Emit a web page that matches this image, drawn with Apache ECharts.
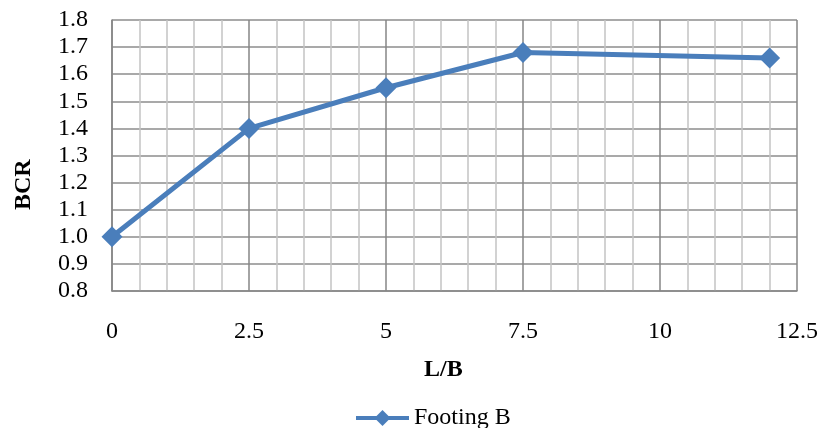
<!DOCTYPE html>
<html>
<head>
<meta charset="utf-8">
<script src="https://cdn.jsdelivr.net/npm/echarts@6/dist/echarts.min.js"></script>
<style>html,body{margin:0;padding:0;background:#fff}#c{width:821px;height:428px}</style>
</head>
<body>
<div id="c"></div>
<script>
const xValues = [0, 2.5, 5, 7.5, 12];
const bcrValues = [1.0, 1.4, 1.55, 1.68, 1.66];
const seriesName = 'Footing B';
const xTitle = 'L/B';
const yTitle = 'BCR';

const chart = echarts.init(document.getElementById('c'), null, {renderer: 'canvas'});
const font = '"Liberation Serif", "Times New Roman", serif';
chart.setOption({
  animation: false,
  backgroundColor: '#fff',
  grid: {left: 112, right: 24, top: 20, bottom: 137, show: false},
  xAxis: {
    type: 'value', min: 0, max: 12.5, interval: 2.5, minorSplitLine: {show: true, lineStyle: {color: '#c4c4c4', width: 1.5}},
    minorTick: {show: false, splitNumber: 5},
    splitLine: {show: true, lineStyle: {color: '#868686', width: 1.5}},
    axisLine: {show: true, lineStyle: {color: '#868686', width: 1.5}},
    axisTick: {show: false},
    axisLabel: {color: '#000', fontFamily: font, fontSize: 24, margin: 29, formatter: v => String(v)}
  },
  yAxis: {
    type: 'value', min: 0.8, max: 1.8, interval: 0.1,
    splitLine: {show: true, lineStyle: {color: '#8c8c8c', width: 1.5}},
    axisLine: {show: true, lineStyle: {color: '#868686', width: 1.5}},
    axisTick: {show: false},
    axisLabel: {color: '#000', fontFamily: font, fontSize: 24, margin: 24, formatter: v => v.toFixed(1)}
  },
  graphic: [
    {type: 'text', left: 444 - 20, top: 358, style: {text: xTitle, font: 'bold 24px ' + font, fill: '#000'}},
    {type: 'text', x: 12, y: 210, rotation: Math.PI / 2, style: {text: yTitle, font: 'bold 24px ' + font, fill: '#000'}}
  ],
  legend: {
    left: 349, top: 401, itemWidth: 53, itemHeight: 20, itemGap: 10,
    lineStyle: {width: 4},
    textStyle: {fontFamily: font, fontSize: 24, color: '#000'},
    data: [seriesName]
  },
  series: [{
    name: seriesName, type: 'line',
    data: xValues.map((x, i) => [x, bcrValues[i]]),
    lineStyle: {color: '#4a7ebb', width: 5},
    itemStyle: {color: '#4a7ebb'},
    symbol: 'diamond', symbolSize: 21,
    z: 5
  }]
});
</script>
</body>
</html>
